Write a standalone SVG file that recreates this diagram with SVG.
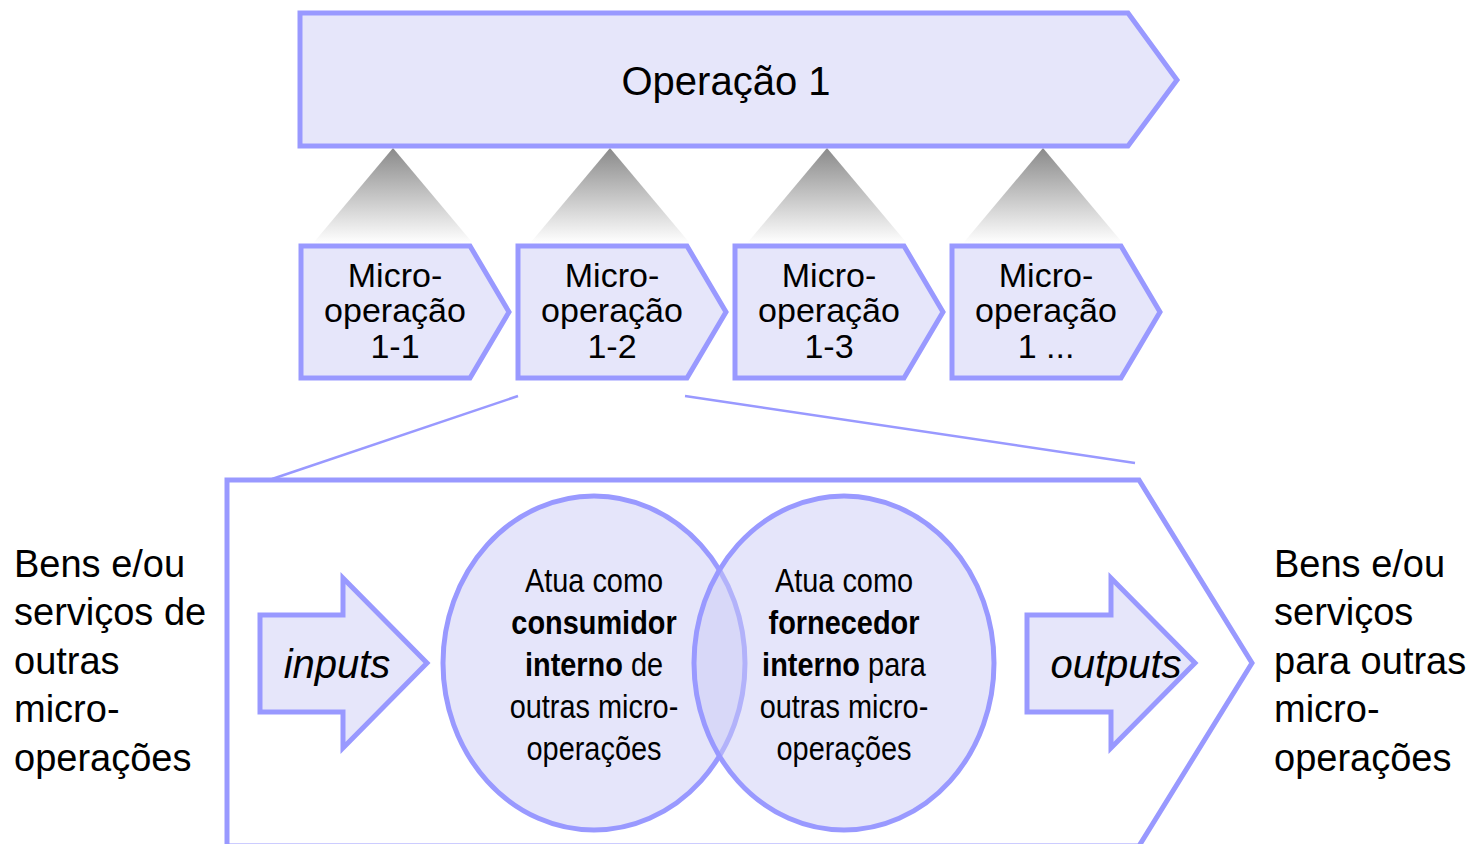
<svg xmlns="http://www.w3.org/2000/svg" width="1471" height="844" viewBox="0 0 1471 844">
<defs>
<linearGradient id="shade" x1="0" y1="0" x2="0" y2="1">
<stop offset="0" stop-color="#8a8a8a"/>
<stop offset="0.85" stop-color="#ffffff"/>
</linearGradient>
<style>
.shape{fill:#e6e6fa;stroke:#9999ff;stroke-width:5;stroke-linejoin:miter}
.frame{fill:#ffffff;stroke:#9999ff;stroke-width:5}
.circ{fill:#cbcbf5;fill-opacity:0.5;stroke:#9999ff;stroke-width:5}
.link{stroke:#9999ff;stroke-width:2.5;fill:none}
.t{font-family:"Liberation Sans",Arial,sans-serif;fill:#000;text-anchor:middle}
.side{font-family:"Liberation Sans",Arial,sans-serif;fill:#000;font-size:38px}
.nar{font-family:"Liberation Sans",Arial,sans-serif;fill:#000;text-anchor:middle;font-size:34px}
.b{font-weight:bold}
.it{font-family:"Liberation Sans",Arial,sans-serif;font-style:italic;font-size:40px;text-anchor:middle;fill:#000}
.tri{fill:url(#shade)}
</style>
</defs>
<rect width="1471" height="844" fill="#ffffff"/>
<g id="shadows">
<polygon class="tri" points="393,148 299,260 487,260"/>
<polygon class="tri" points="610,148 516,260 704,260"/>
<polygon class="tri" points="827,148 733,260 921,260"/>
<polygon class="tri" points="1043,148 949,260 1137,260"/>
</g>
<g id="connectors">
<line class="link" x1="518" y1="396" x2="272" y2="479"/>
<line class="link" x1="685" y1="396" x2="1135" y2="463"/>
</g>
<g id="operacao1">
<path class="shape" d="M300,13 L1128,13 L1177,80 L1128,146 L300,146 Z"/>
<text class="t" x="726" y="95" font-size="40">Operação 1</text>
</g>
<g id="micro11">
<path class="shape" d="M301,246 L470,246 L509,312 L470,378 L301,378 Z"/>
<text class="t" font-size="34"><tspan x="395" y="287">Micro-</tspan><tspan x="395" y="322">operação</tspan><tspan x="395" y="358">1-1</tspan></text>
</g>
<g id="micro12">
<path class="shape" d="M518,246 L687,246 L726,312 L687,378 L518,378 Z"/>
<text class="t" font-size="34"><tspan x="612" y="287">Micro-</tspan><tspan x="612" y="322">operação</tspan><tspan x="612" y="358">1-2</tspan></text>
</g>
<g id="micro13">
<path class="shape" d="M735,246 L904,246 L943,312 L904,378 L735,378 Z"/>
<text class="t" font-size="34"><tspan x="829" y="287">Micro-</tspan><tspan x="829" y="322">operação</tspan><tspan x="829" y="358">1-3</tspan></text>
</g>
<g id="micro1n">
<path class="shape" d="M952,246 L1121,246 L1160,312 L1121,378 L952,378 Z"/>
<text class="t" font-size="34"><tspan x="1046" y="287">Micro-</tspan><tspan x="1046" y="322">operação</tspan><tspan x="1046" y="358">1 ...</tspan></text>
</g>
<g id="detalhe">
<path class="frame" d="M227,480 L1139,480 L1252,663 L1139,846 L227,846 Z"/>
</g>
<g id="inputs">
<path class="shape" d="M260,615 L343,615 L343,578 L427,663 L343,748 L343,712 L260,712 Z"/>
<text class="it" x="337" y="678">inputs</text>
</g>
<g id="consumidor">
<ellipse class="circ" cx="594" cy="663" rx="151" ry="167"/>
</g>
<g id="fornecedor">
<ellipse class="circ" cx="844" cy="663" rx="150" ry="167"/>
</g>
<g id="consumidor-text" transform="translate(594,0) scale(0.85,1)">
<text class="nar" x="0" y="592">Atua como</text>
<text class="nar b" x="0" y="634">consumidor</text>
<text class="nar" x="0" y="676"><tspan class="b">interno</tspan> de</text>
<text class="nar" x="0" y="718">outras micro-</text>
<text class="nar" x="0" y="760">operações</text>
</g>
<g id="fornecedor-text" transform="translate(844,0) scale(0.85,1)">
<text class="nar" x="0" y="592">Atua como</text>
<text class="nar b" x="0" y="634">fornecedor</text>
<text class="nar" x="0" y="676"><tspan class="b">interno</tspan> para</text>
<text class="nar" x="0" y="718">outras micro-</text>
<text class="nar" x="0" y="760">operações</text>
</g>
<g id="outputs">
<path class="shape" d="M1027,615 L1111,615 L1111,578 L1195,663 L1111,748 L1111,712 L1027,712 Z"/>
<text class="it" x="1116" y="678">outputs</text>
</g>
<g id="entrada">
<text class="side"><tspan x="14" y="577">Bens e/ou</tspan><tspan x="14" y="625">serviços de</tspan><tspan x="14" y="674">outras</tspan><tspan x="14" y="722">micro-</tspan><tspan x="14" y="771">operações</tspan></text>
</g>
<g id="saida">
<text class="side"><tspan x="1274" y="577">Bens e/ou</tspan><tspan x="1274" y="625">serviços</tspan><tspan x="1274" y="674">para outras</tspan><tspan x="1274" y="722">micro-</tspan><tspan x="1274" y="771">operações</tspan></text>
</g>
</svg>
